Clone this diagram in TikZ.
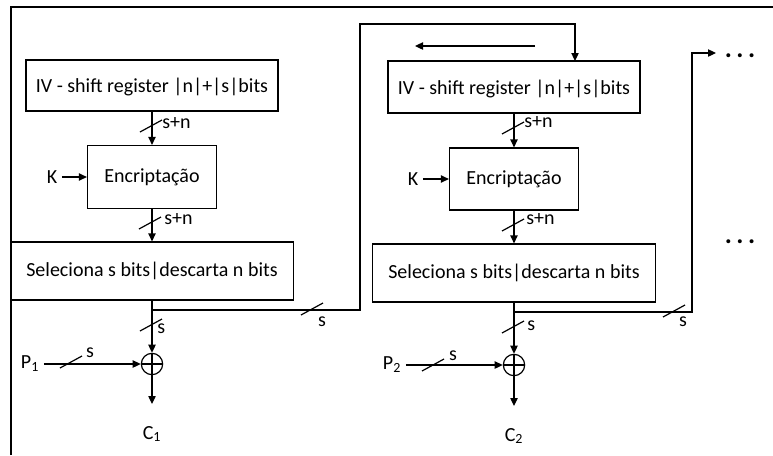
\documentclass[tikz,border=0pt]{standalone}
\usepackage{fontspec}
\setmainfont{Carlito}
\usetikzlibrary{arrows.meta}

\tikzset{
  box/.style={draw, line width=0.9pt, inner sep=0pt},
  xorop/.style={draw, circle, line width=0.9pt, minimum size=16pt, inner sep=0pt,
    path picture={\draw[line width=0.9pt] (path picture bounding box.north) -- (path picture bounding box.south)
      (path picture bounding box.west) -- (path picture bounding box.east);}},
  arr/.style={line width=0.9pt, -{Triangle[length=6pt,width=5.5pt]}},
  wire/.style={line width=0.9pt},
  lbl/.style={inner sep=0pt},
  more/.style={font=\fontsize{20}{22}\selectfont\bfseries},
  busmark/.pic={\draw[line width=0.9pt] (-11,6) -- (11,-6);}
}

\begin{document}
\begin{tikzpicture}[x=0.75pt, y=-0.75pt, font=\fontsize{15}{18}\selectfont]

\useasboundingbox (0,0) rectangle (773,455);
\draw[wire] (11,455) -- (11,7) -- (773,7);

% first stage
\node[box, minimum width=189pt, minimum height=38.25pt, text depth=-3pt] (iv1) at (152,85.5) {IV - shift register |n|+|s|bits};
\node[box, minimum width=96.75pt, minimum height=47.25pt] (enc1) at (152,177) {Encriptação};
\node[box, minimum width=212.25pt, minimum height=43.5pt] (sel1) at (152,271) {Seleciona s bits|descarta n bits};
\node[xorop] (xor1) at (152,364) {};
\node (k1) at (52,177) {K};
\node (p1) at (30,364) {P\textsubscript{1}};
\node (c1) at (152,434) {C\textsubscript{1}};
\coordinate (j1) at (152,310);
\coordinate (fb1) at (360,24);

\draw[arr] (iv1) -- (enc1);
\draw[arr] (k1) -- (enc1);
\draw[arr] (enc1) -- (sel1);
\draw[arr] (sel1) -- (xor1);
\draw[arr] (p1) -- (xor1);
\draw[arr, shorten >=13pt] (xor1) -- (c1);

\pic at (151,126) {busmark};
\node[lbl, anchor=west] (l1a) at (162,123) {s+n};
\pic at (150,223) {busmark};
\node[lbl, anchor=west] (l1b) at (164,219) {s+n};
\pic at (151,325) {busmark};
\node[lbl, anchor=west] (l1c) at (157,329) {s};
\pic at (71,362) {busmark};
\node[lbl] (l1p) at (90,353) {s};
\pic at (312,309) {busmark};
\node[lbl] (l1h) at (322,322) {s};

% second stage
\node[box, minimum width=189pt, minimum height=39pt, text depth=-3pt] (iv2) at (514,87) {IV - shift register |n|+|s|bits};
\node[box, minimum width=96.75pt, minimum height=46.5pt] (enc2) at (514,179) {Encriptação};
\node[box, minimum width=212.25pt, minimum height=43.5pt] (sel2) at (514,273) {Seleciona s bits|descarta n bits};
\node[xorop] (xor2) at (514,365) {};
\node (k2) at (413,179) {K};
\node (p2) at (392,365) {P\textsubscript{2}};
\node (c2) at (514,436) {C\textsubscript{2}};
\coordinate (j2) at (514,312);
\coordinate (in2) at (575,61);
\coordinate (sh1) at (535,46);
\coordinate (sh2) at (415,46);
\coordinate (fb2) at (692,53);
\coordinate (out2) at (716,53);

\draw[arr] (j1) -| (fb1) -| (in2);
\draw[arr] (sh1) -- (sh2);
\draw[arr] (iv2) -- (enc2);
\draw[arr] (k2) -- (enc2);
\draw[arr] (enc2) -- (sel2);
\draw[arr] (sel2) -- (xor2);
\draw[arr] (p2) -- (xor2);
\draw[arr, shorten >=13pt] (xor2) -- (c2);
\draw[arr] (j2) -| (fb2) -- (out2);

\pic at (513,128) {busmark};
\node[lbl, anchor=west] (l2a) at (524,122) {s+n};
\pic at (513,225) {busmark};
\node[lbl, anchor=west] (l2b) at (526,219) {s+n};
\pic at (513,327) {busmark};
\node[lbl, anchor=west] (l2c) at (527,326) {s};
\pic at (433,365) {busmark};
\node[lbl] (l2p) at (453,356) {s};
\pic at (674,311) {busmark};
\node[lbl] (l2h) at (683,322) {s};

% continuation
\node[more] (dots1) at (740,56) {.\,.\,.};
\node[more] (dots2) at (740,242) {.\,.\,.};

\end{tikzpicture}
\end{document}
